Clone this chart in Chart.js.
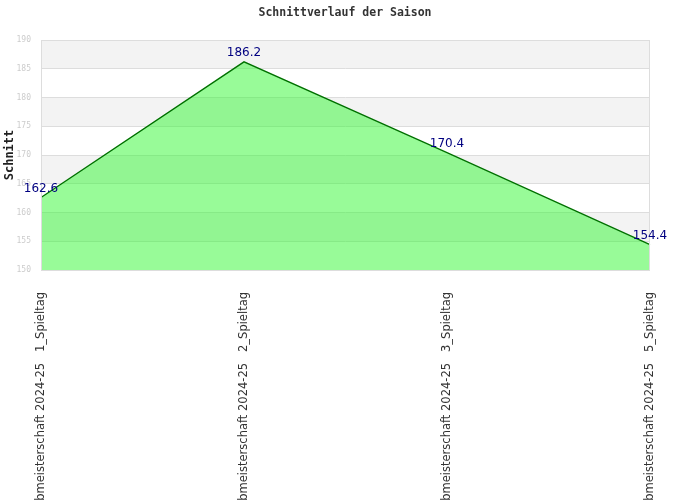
<!DOCTYPE html>
<html>
<head>
<meta charset="utf-8">
<script src="https://cdn.jsdelivr.net/npm/chart.js@4/dist/chart.umd.min.js"></script>
<style>
html,body{margin:0;padding:0;background:#fff;overflow:hidden;}
#wrap{width:690px;height:500px;position:relative;}
</style>
</head>
<body>
<div id="wrap"><canvas id="c" width="690" height="500"></canvas></div>
<script>
const categories = [
  "Clubmeisterschaft 2024-25   1_Spieltag",
  "Clubmeisterschaft 2024-25   2_Spieltag",
  "Clubmeisterschaft 2024-25   3_Spieltag",
  "Clubmeisterschaft 2024-25   5_Spieltag"
];
const schnitt = [162.6, 186.2, 170.4, 154.4];
const yMin = 150, yMax = 190, yStep = 5;
const chartTitle = "Schnittverlauf der Saison";
const yTitle = "Schnitt";

const bandPlugin = {
  id: 'bands',
  beforeDraw(chart) {
    const {ctx, chartArea, scales} = chart;
    const y = scales.y;
    ctx.save();
    ctx.fillStyle = '#f3f3f3';
    let i = 0;
    for (let v = yMax; v > yMin; v -= yStep, i++) {
      if (i % 2 === 0) {
        const top = y.getPixelForValue(v);
        const bot = y.getPixelForValue(v - yStep);
        ctx.fillRect(chartArea.left, top, chartArea.right - chartArea.left, bot - top);
      }
    }
    // title centred over full canvas
    ctx.fillStyle = '#333333';
    ctx.font = 'bold 11.5px "DejaVu Sans Mono"';
    ctx.textAlign = 'center';
    ctx.textBaseline = 'middle';
    ctx.fillText(chartTitle, chart.width / 2, 13);
    ctx.restore();
  },
  afterDatasetsDraw(chart) {
    const {ctx, chartArea} = chart;
    ctx.save();
    ctx.strokeStyle = '#dddddd';
    ctx.lineWidth = 1;
    ctx.strokeRect(chartArea.left + 0.5, chartArea.top + 0.5, chartArea.right - chartArea.left - 1, chartArea.bottom - chartArea.top);
    const meta = chart.getDatasetMeta(0);
    ctx.fillStyle = '#000080';
    ctx.font = '12px "DejaVu Sans"';
    ctx.textAlign = 'center';
    ctx.textBaseline = 'middle';
    meta.data.forEach((pt, idx) => {
      ctx.fillText(schnitt[idx].toFixed(1), pt.x, pt.y - 9);
    });
    ctx.restore();
  }
};

new Chart(document.getElementById('c'), {
  type: 'line',
  data: {
    labels: categories,
    datasets: [{
      data: schnitt,
      borderColor: '#007000',
      borderWidth: 1.3,
      backgroundColor: 'rgba(50,248,50,0.5)',
      fill: 'start',
      pointRadius: 0,
      tension: 0
    }]
  },
  options: {
    responsive: false,
    animation: false,
    layout: { padding: { left: 0, right: 40, top: 40, bottom: 0 } },
    plugins: {
      legend: { display: false },
      tooltip: { enabled: false },
      title: { display: false }
    },
    scales: {
      x: {
        offset: false,
        grid: { display: false, drawTicks: false },
        border: { display: false },
        ticks: {
          autoSkip: false,
          minRotation: 90,
          maxRotation: 90,
          padding: 22,
          color: '#333333',
          font: { family: 'DejaVu Sans', size: 11.5 }
        },
        afterFit(scale) { scale.height = 230; }
      },
      y: {
        min: yMin,
        max: yMax,
        grid: { color: '#dddddd', drawTicks: false },
        border: { display: false },
        ticks: {
          stepSize: yStep,
          padding: 10,
          color: '#cccccc',
          font: { family: 'DejaVu Sans Mono', size: 8 }
        },
        title: {
          display: true,
          text: yTitle,
          color: '#222222',
          font: { family: 'DejaVu Sans Mono', size: 12, weight: 'bold' },
          padding: { top: 3, bottom: 0 }
        },
        afterFit(scale) { scale.width = 41; }
      }
    }
  },
  plugins: [bandPlugin]
});
</script>
</body>
</html>
